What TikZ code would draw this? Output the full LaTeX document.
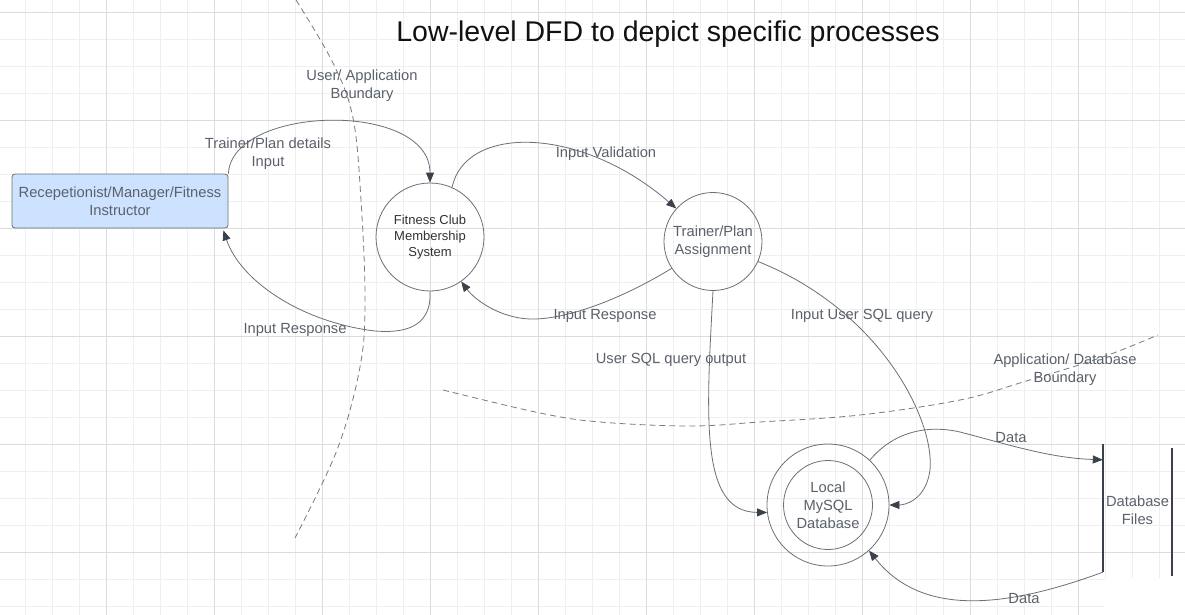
\documentclass[tikz,border=0pt]{standalone}
\usepackage{fontspec}
\setmainfont{Liberation Sans}
\usetikzlibrary{arrows.meta}
\definecolor{linec}{HTML}{6B6F76}
\definecolor{txtc}{HTML}{5B616B}
\definecolor{tipc}{HTML}{3A414A}
\definecolor{boxfill}{RGB}{204,226,255}
\definecolor{gridminor}{HTML}{EFEFEF}
\definecolor{gridmajor}{HTML}{DCDCDC}
\definecolor{dashc}{HTML}{777B82}
\begin{document}
\begin{tikzpicture}[x=1pt,y=-1pt,
  flow/.style={draw=linec,line width=0.8pt,-{Triangle[length=10pt,width=8pt,color=tipc]}},
  lbl/.style={text=txtc,font=\fontsize{14.7}{18}\selectfont,align=center,inner sep=0pt},
  boundary/.style={draw=dashc,line width=0.8pt,dash pattern=on 6pt off 4pt},
  proc/.style={circle,draw=linec,line width=0.8pt,inner sep=0pt,align=center,text=txtc,font=\fontsize{14.7}{18}\selectfont},
  gminor/.style={draw=gridminor,line width=0.8pt},
  gmajor/.style={draw=gridmajor,line width=0.9pt}
]
\useasboundingbox (0,0) rectangle (1185,615);
\fill[white] (0,0) rectangle (1185,615);
% grid
\foreach \x in {25,52,...,1185} \draw[gminor] (\x,0) -- (\x,615);
\foreach \y in {12,39,...,615} \draw[gminor] (0,\y) -- (1185,\y);
\foreach \x in {106,214,...,1185} \draw[gmajor] (\x,0) -- (\x,615);
\foreach \y in {12,120,...,615} \draw[gmajor] (0,\y) -- (1185,\y);
\fill[white] (1105,578) rectangle (1185,615);

% title
\node[inner sep=0pt,text={rgb,255:red,17;green,17;blue,17},font=\fontsize{28.5}{34}\selectfont] (title) at (668,34) {Low-level DFD to depict specific processes};

% boundaries
\draw[boundary] plot[smooth,tension=0.6] coordinates {(296,0) (333,63) (353,118) (361,200) (365,300) (360,367) (337,450) (295,538)};
\draw[boundary] plot[smooth,tension=0.6] coordinates {(443,390) (540,413) (600,422) (690,426) (760,422) (860,415) (960,400) (1023,382) (1100,358) (1158,335)};
\node[lbl] (ubound) at (362,86) {User/ Application\\Boundary};
\node[lbl] (dbound) at (1065,370) {Application/ Database\\Boundary};

% nodes
\node[draw=linec,line width=0.8pt,fill=boxfill,rounded corners=3pt,minimum width=216pt,minimum height=54pt,inner sep=0pt,align=center,text=txtc,font=\fontsize{14.7}{18}\selectfont] (box) at (120,201) {Recepetionist/Manager/Fitness\\Instructor};
\node[proc,minimum size=108pt,text={rgb,255:red,51;green,51;blue,51},font=\fontsize{13}{16}\selectfont] (fcm) at (430,237) {Fitness Club\\Membership\\System};
\node[proc,minimum size=98pt] (tpa) at (713,241.5) {Trainer/Plan\\Assignment};
\node[proc,minimum size=122pt] (db) at (828,505) {};
\node[proc,minimum size=89pt] (dbin) at (db.center) {Local\\MySQL\\Database};
\node[minimum width=69pt,minimum height=132pt,inner sep=0pt,align=center,text=txtc,font=\fontsize{14.7}{18}\selectfont] (dbf) at (1137.5,510) {Database\\Files};
\draw[draw=tipc,line width=2pt] (dbf.north west) -- ([yshift=4pt]dbf.south west);
\draw[draw=tipc,line width=2pt] ([yshift=-4pt]dbf.north east) -- (dbf.south east);

% flows
\draw[flow] (box.north east) .. controls (232,105) and (430,100) .. (fcm.north);
\node[lbl] (l1) at (268,154) {Trainer/Plan details\\Input};

\draw[flow] (fcm.south) .. controls (432,330) and (400,333) .. (375,331) .. controls (300,322) and (240,280) .. ([xshift=-5pt,yshift=-2pt]box.south east);
\node[lbl] (l2) at (295,330) {Input Response};

\draw[flow] (fcm.66) .. controls (465,125) and (580,125) .. (tpa.138);
\node[lbl] (l3) at (606,154) {Input Validation};

\draw[flow] (tpa.213) .. controls (620,300) and (565,320) .. (530,319) .. controls (500,318) and (475,300) .. (fcm.-55);
\node[lbl] (l4) at (605,316) {Input Response};

\draw[flow] (tpa.south) .. controls (706,420) and (700,512) .. (db.187);
\node[lbl] (l5) at (671,360) {User SQL query output};

\draw[flow] (tpa.-24) .. controls (880,310) and (935,420) .. (930,470) .. controls (926,500) and (905,505) .. (db.east);
\node[lbl] (l6) at (862,316) {Input User SQL query};

\draw[flow] (db.47) .. controls (895,430) and (930,425) .. (960,432) .. controls (1010,445) and (1050,458) .. ([yshift=-16pt]dbf.north west);
\node[lbl] (l7) at (1011,438) {Data};

\draw[flow] ([yshift=4pt]dbf.south west) .. controls (1000,610) and (920,615) .. (db.-48);
\node[lbl] (l8) at (1024,599) {Data};
\end{tikzpicture}
\end{document}
